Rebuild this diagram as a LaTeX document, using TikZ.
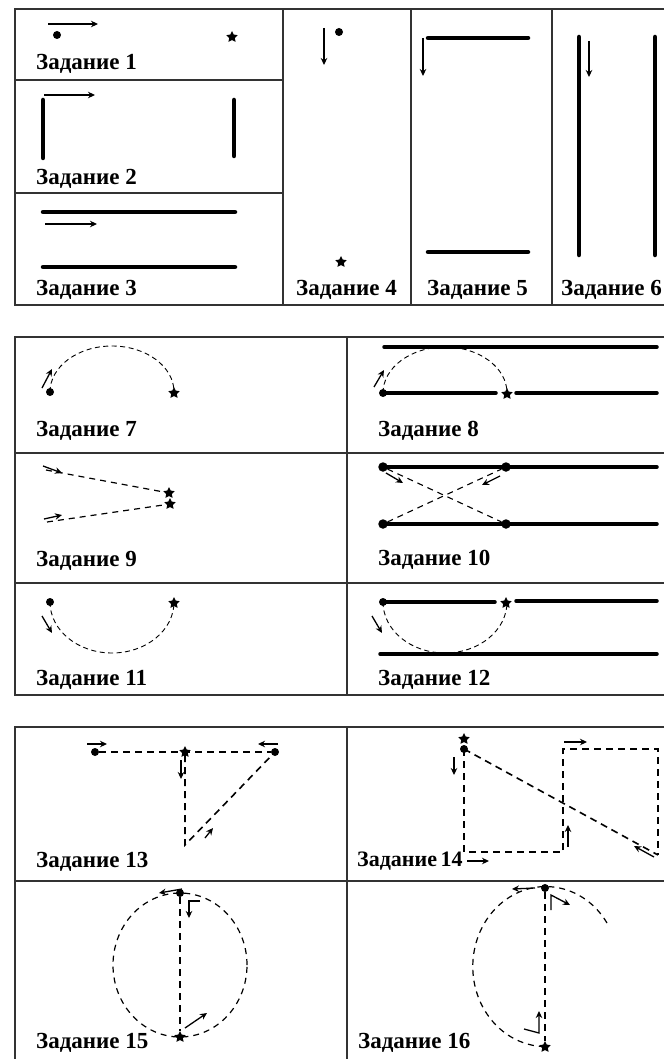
\documentclass[tikz,border=0pt]{standalone}
\usepackage{fontspec}
\setmainfont{Liberation Serif}
\usetikzlibrary{shapes.geometric,arrows.meta}

\tikzset{
  frame/.style={line width=1.6pt, draw=black!80},
  bar/.style={line width=4.5pt, line cap=round},
  rail/.style={line width=3.5pt, line cap=round},
  dir/.style={-{Stealth[length=7pt,width=6.5pt]}, line width=1.3pt},
  trail/.style={dash pattern=on 5pt off 3.5pt, line width=0.9pt},
  track/.style={dash pattern=on 7pt off 5pt, line width=1.6pt},
  startdot/.style={circle, fill, inner sep=0pt, minimum size=8pt},
  bigdot/.style={circle, fill, inner sep=0pt, minimum size=9.5pt},
  finishstar/.style={star, star points=5, star point ratio=2, fill, inner sep=0pt, minimum size=12pt},
  task/.style={anchor=base west, inner sep=0pt, font=\bfseries\fontsize{23}{25}\selectfont}
}

\begin{document}
\begin{tikzpicture}[x=1pt,y=-1pt]
  \useasboundingbox (0,0) rectangle (664,1059);

  % first table: tasks 1 -- 6
  \draw[frame] (664,9) -- (15,9) -- (15,305) -- (664,305);
  \foreach \x in {283,411,552} \draw[frame] (\x,9) -- (\x,305);
  \foreach \y in {80,193} \draw[frame] (15,\y) -- (283,\y);

  % task 1
  \draw[dir] (48,24) -- (98,24);
  \node[startdot] (d1) at (57,35) {};
  \node[finishstar] (s1) at (232,37) {};
  \node[task] (t1) at (36,70) {Задание 1};

  % task 2
  \draw[dir] (44,95) -- (95,95);
  \draw[bar] (43,100) -- (43,158);
  \draw[bar] (234,100) -- (234,156);
  \node[task] (t2) at (36,185) {Задание 2};

  % task 3
  \draw[bar] (43,212) -- (235,212);
  \draw[dir] (45,224) -- (97,224);
  \draw[bar] (43,267) -- (235,267);
  \node[task] (t3) at (36,295) {Задание 3};

  % task 4
  \draw[dir] (324,28) -- (324,65);
  \node[startdot] (d4) at (339,32) {};
  \node[finishstar] (s4) at (341,262) {};
  \node[task] (t4) at (296,295) {Задание 4};

  % task 5
  \draw[dir] (423,38) -- (423,76);
  \draw[bar] (428,38) -- (528,38);
  \draw[bar] (428,252) -- (528,252);
  \node[task] (t5) at (427,295) {Задание 5};

  % task 6
  \draw[bar] (579,37) -- (579,255);
  \draw[dir] (589,41) -- (589,77);
  \draw[bar] (655,37) -- (655,255);
  \node[task] (t6) at (561,295) {Задание 6};

  % second table: tasks 7 -- 12
  \draw[frame] (664,337) -- (15,337) -- (15,695) -- (664,695);
  \draw[frame] (347,337) -- (347,695);
  \foreach \y in {453,583} \draw[frame] (15,\y) -- (664,\y);

  % task 7
  \node[startdot] (d7) at (50,392) {};
  \node[finishstar] (s7) at (174,393) {};
  \draw[trail] (d7.center) arc[start angle=180, end angle=0, x radius=62pt, y radius=46pt];
  \draw[dir] (42,388) -- (52,369);
  \node[task] (t7) at (36,436) {Задание 7};

  % task 8
  \draw[rail] (384,347) -- (657,347);
  \node[startdot] (d8) at (383,393) {};
  \node[finishstar] (s8) at (507,394) {};
  \draw[rail] (d8.center) -- (496,393);
  \draw[rail] (516,393) -- (657,393);
  \draw[trail] (d8.center) arc[start angle=180, end angle=0, x radius=62pt, y radius=46pt];
  \draw[dir] (374,387) -- (384,370);
  \node[task] (t8) at (378,436) {Задание 8};

  % task 9
  \node[finishstar] (s9a) at (169,493) {};
  \node[finishstar] (s9b) at (170,504) {};
  \coordinate (a9) at (46,470);
  \coordinate (b9) at (47,522);
  \draw[trail, line width=1.2pt, dash pattern=on 6pt off 5pt] (a9) -- (s9a);
  \draw[trail, line width=1.2pt, dash pattern=on 6pt off 5pt] (b9) -- (s9b);
  \draw[dir] (43,466) -- (62,473);
  \draw[dir] (44,519) -- (62,515);
  \node[task] (t9) at (36,566) {Задание 9};

  % task 10
  \node[bigdot] (d10a) at (383,467) {};
  \node[bigdot] (d10b) at (506,467) {};
  \node[bigdot] (d10c) at (383,524) {};
  \node[bigdot] (d10d) at (506,524) {};
  \draw[rail] (d10a.center) -- (657,467);
  \draw[rail] (d10c.center) -- (657,524);
  \draw[trail, line width=1.1pt, dash pattern=on 6pt off 5pt] (d10a) -- (d10d);
  \draw[trail, line width=1.1pt, dash pattern=on 6pt off 5pt] (d10c) -- (d10b);
  \draw[dir] (386,473) -- (403,483);
  \draw[dir] (500,476) -- (482,485);
  \node[task] (t10) at (378,565) {Задание 10};

  % task 11
  \node[startdot] (d11) at (50,602) {};
  \node[finishstar] (s11) at (174,603) {};
  \draw[trail] (d11.center) arc[start angle=180, end angle=360, x radius=62pt, y radius=51pt];
  \draw[dir] (42,616) -- (52,633);
  \node[task] (t11) at (36,685) {Задание 11};

  % task 12
  \node[startdot] (d12) at (383,602) {};
  \node[finishstar] (s12) at (506,603) {};
  \draw[rail] (d12.center) -- (495,602);
  \draw[rail] (516,601) -- (657,601);
  \draw[rail] (380,654) -- (657,654);
  \draw[trail] (d12.center) arc[start angle=180, end angle=360, x radius=62pt, y radius=51pt];
  \draw[dir] (372,616) -- (382,633);
  \node[task] (t12) at (378,685) {Задание 12};

  % third table: tasks 13 -- 16
  \draw[frame] (664,727) -- (15,727) -- (15,1059);
  \draw[frame] (347,727) -- (347,1059);
  \draw[frame] (15,881) -- (664,881);

  % task 13
  \node[startdot] (d13a) at (95,752) {};
  \node[finishstar] (s13) at (185,752) {};
  \node[startdot] (d13b) at (275,752) {};
  \coordinate (c13) at (185,845);
  \draw[track] (d13a) -- (d13b);
  \draw[track] (s13) -- (c13) -- (d13b);
  \draw[dir] (87,744) -- (107,744);
  \draw[dir] (278,744) -- (258,744);
  \draw[dir] (181,760) -- (181,779);
  \draw[dir] (205,838) -- (213,828);
  \node[task] (t13) at (36,867) {Задание 13};

  % task 14
  \node[finishstar] (s14) at (464,739) {};
  \node[startdot] (d14) at (464,749) {};
  \coordinate (e14) at (658,855);
  \draw[track] (d14.center) -- (464,852) -- (563,852) -- (563,749) -- (658,749) -- (e14);
  \draw[track] (d14.center) -- (e14);
  \draw[dir] (454,757) -- (454,775);
  \draw[dir] (564,742) -- (587,742);
  \draw[dir] (568,847) -- (568,825);
  \draw[dir] (654,857) -- (634,846);
  \draw[dir] (467,861) -- (489,861);
  \node[task, font=\bfseries\fontsize{22}{24}\selectfont] (t14) at (357,866) {Задание\,14};

  % task 15
  \node[startdot] (d15) at (180,893) {};
  \node[finishstar] (s15) at (180,1037) {};
  \draw[trail, line width=1.2pt, dash pattern=on 6pt off 5pt] (180,965) ellipse[x radius=67pt, y radius=72pt];
  \draw[track] (d15) -- (s15);
  \draw[dir] (182,889) -- (159,893);
  \draw[dir] (200,901) -- (189,901) -- (189,918);
  \draw[dir] (185,1028) -- (207,1013);
  \node[task] (t15) at (36,1048) {Задание 15};

  % task 16
  \node[startdot] (d16) at (545,888) {};
  \node[finishstar] (s16) at (545,1047) {};
  \draw[trail, line width=1.2pt, dash pattern=on 6pt off 5pt] (607,923) arc[start angle=33, end angle=270, x radius=73pt, y radius=80pt];
  \draw[track] (d16) -- (s16);
  \draw[dir] (535,888) -- (512,889);
  \draw[dir] (551,910) -- (551,895) -- (570,905);
  \draw[dir] (524,1029) -- (539,1033) -- (539,1011);
  \node[task] (t16) at (358,1048) {Задание 16};
\end{tikzpicture}
\end{document}
